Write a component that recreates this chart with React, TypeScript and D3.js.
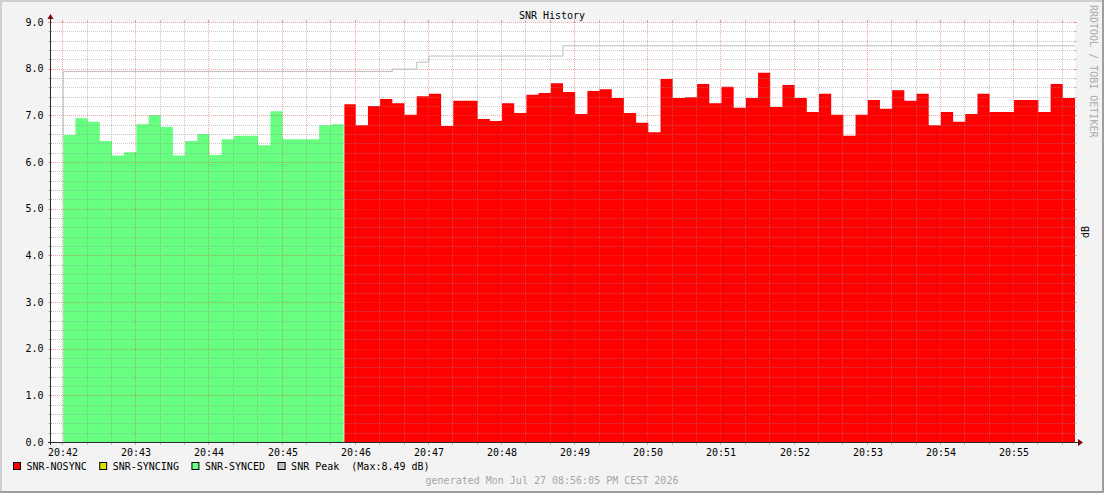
import React from 'react';
import * as d3 from 'd3';

// ---- data ----
const chartTitle = 'SNR History';
const verticalLabel = 'dB';
const watermark = 'RRDTOOL / TOBI OETIKER';
const footerText = 'generated Mon Jul 27 08:56:05 PM CEST 2026';

const viewStart = new Date(2026, 6, 27, 20, 41, 50);
const viewEnd = new Date(2026, 6, 27, 20, 55, 50);
const dataStart = new Date(2026, 6, 27, 20, 42, 0);
const stepSeconds = 10;

// SNR-SYNCED (green), first steps
const syncedValues = [
  6.58, 6.94, 6.86, 6.45, 6.14, 6.21, 6.81, 7.0, 6.75, 6.14, 6.45, 6.6,
  6.15, 6.49, 6.56, 6.56, 6.36, 7.09, 6.49, 6.49, 6.49, 6.79, 6.81,
];
// SNR-SYNCING (yellow), no samples in this window
const syncingValues: number[] = [];
// SNR-NOSYNC (red), steps following the synced ones
const nosyncValues = [
  7.24, 6.79, 7.2, 7.35, 7.26, 7.01, 7.41, 7.46, 6.77, 7.31, 7.31, 6.92,
  6.88, 7.26, 7.05, 7.44, 7.48, 7.69, 7.5, 7.03, 7.52, 7.56, 7.37, 7.05,
  6.84, 6.64, 7.78, 7.37, 7.39, 7.67, 7.26, 7.61, 7.16, 7.37, 7.91, 7.18,
  7.65, 7.37, 7.07, 7.46, 7.01, 6.56, 7.01, 7.33, 7.14, 7.54, 7.31, 7.46,
  6.79, 7.07, 6.86, 7.03, 7.46, 7.07, 7.07, 7.33, 7.33, 7.07, 7.67, 7.37,
];
// SNR Peak: step index where the level changes, and the level
const peakChangeSteps = [0, 27, 29, 30, 41];
const peakLevels = [7.94, 7.99, 8.14, 8.27, 8.49];
const peakMaxLabel = '8.49';

const yMax = 9;
const yMinorStep = 0.2;
const yMajorStep = 1;

const legendNames = ['SNR-NOSYNC', 'SNR-SYNCING', 'SNR-SYNCED', 'SNR Peak'];
const legendColors = ['#ff0000', '#dddd00', '#66ff80', '#c0c0c0'];

// ---- layout ----
const W = 1104;
const H = 493;
const PL = 51;
const PR = 1075;
const PT = 22;
const PB = 442;
const FONT = '"DejaVu Sans Mono", "Liberation Mono", monospace';
const CHAR_W = 6.02;

const MINOR_COLOR = 'rgba(143,143,143,0.5)';
const MAJOR_COLOR = 'rgba(222,80,80,0.5)';
const AXIS_COLOR = '#2a2a2a';
const ARROW_COLOR = '#7f0000';

type Pt = { t: Date; v: number };

const addSec = (d: Date, s: number) => new Date(d.getTime() + s * 1000);

function stepPoints(startIndex: number, values: number[]): Pt[] {
  if (!values.length) return [];
  const pts = values.map((v, i) => ({ t: addSec(dataStart, (startIndex + i) * stepSeconds), v }));
  pts.push({ t: addSec(dataStart, (startIndex + values.length) * stepSeconds), v: values[values.length - 1] });
  return pts;
}

export default function App() {
  const x = d3.scaleTime().domain([viewStart, viewEnd]).range([PL, PR]);
  const y = d3.scaleLinear().domain([0, yMax]).range([PB, PT]);

  const area = d3
    .area<Pt>()
    .curve(d3.curveStepAfter)
    .x((d) => x(d.t))
    .y0(y(0))
    .y1((d) => y(d.v));
  const line = d3
    .line<Pt>()
    .curve(d3.curveStepAfter)
    .x((d) => x(d.t))
    .y((d) => y(d.v));

  const greenPts = stepPoints(0, syncedValues);
  const yellowPts = stepPoints(syncedValues.length, syncingValues);
  const redStart = syncedValues.length + syncingValues.length;
  const redPts = stepPoints(redStart, nosyncValues);
  // tiny gap where one state hands over to the next
  const redArea = d3
    .area<Pt>()
    .curve(d3.curveStepAfter)
    .x((d, i) => x(d.t) + (i === 0 ? 0.8 : 0))
    .y0(y(0))
    .y1((d) => y(d.v));

  const totalSteps = redStart + nosyncValues.length;
  const peakPerStep = d3.range(totalSteps).map((i) => {
    let lvl = peakLevels[0];
    peakChangeSteps.forEach((s, j) => {
      if (s <= i) lvl = peakLevels[j];
    });
    return lvl;
  });
  const peakPts = stepPoints(0, peakPerStep);
  const firstValue = syncedValues.length ? syncedValues[0] : nosyncValues[0];
  const peakPath =
    line([{ t: dataStart, v: firstValue }, { t: dataStart, v: peakPerStep[0] }]) + (line(peakPts) || '');

  // grid
  const majorTimes = d3.timeMinute.range(viewStart, viewEnd);
  const minorTimes = d3.timeSecond
    .every(20)!
    .range(viewStart, viewEnd)
    .filter((t) => t.getSeconds() !== 0);
  const nMinor = Math.round(yMax / yMinorStep);
  const minorVals = d3
    .range(1, nMinor + 1)
    .map((i) => +(i * yMinorStep).toFixed(2))
    .filter((v) => Math.abs(v / yMajorStep - Math.round(v / yMajorStep)) > 1e-6);
  const majorVals = d3.range(yMajorStep, yMax + 0.001, yMajorStep);
  const labelVals = d3.range(0, yMax + 0.001, yMajorStep);

  const px = (t: Date) => Math.round(x(t)) - 0.5;
  const py = (v: number) => Math.round(y(v)) + 0.5;
  const fmt = d3.timeFormat('%H:%M');

  const vGrid = (t: Date, color: string, key: string) => {
    const xx = px(t);
    return (
      <g key={key}>
        <line x1={xx} x2={xx} y1={PT} y2={PB} stroke={color} strokeDasharray="1,1" />
        <line x1={xx} x2={xx} y1={PB} y2={PB + 3} stroke={color} />
        <line x1={xx} x2={xx} y1={PT - 2} y2={PT + 1} stroke={color} />
      </g>
    );
  };
  const hGrid = (v: number, color: string, key: string) => {
    const yy = py(v);
    return (
      <g key={key}>
        <line x1={PL} x2={PR} y1={yy} y2={yy} stroke={color} strokeDasharray="1,1" />
        <line x1={PL - 3} x2={PL + 1} y1={yy} y2={yy} stroke={color} />
        <line x1={PR - 1} x2={PR + 2} y1={yy} y2={yy} stroke={color} />
      </g>
    );
  };

  // legend layout
  let lx = 13;
  const legend = legendNames.map((name, i) => {
    const boxX = lx;
    const textX = boxX + 13.5;
    const label = i === legendNames.length - 1 ? `${name}  (Max:${peakMaxLabel} dB)` : name;
    lx = textX + label.length * CHAR_W + 12.5;
    return (
      <g key={name}>
        <rect x={boxX + 0.5} y={462.5} width={7} height={7} fill={legendColors[i]} stroke="#000" />
        <text x={textX} y={470} style={{ whiteSpace: 'pre' }}>
          {label}
        </text>
      </g>
    );
  });

  const axisY = py(0);
  const axisX = PL - 0.5;

  return (
    <svg
      width={W}
      height={H}
      viewBox={`0 0 ${W} ${H}`}
      style={{ position: 'absolute', left: 0, top: 0, display: 'block' }}
      fontFamily={FONT}
      fontSize={10}
    >
      <rect x={0} y={0} width={W} height={H} fill="#f3f3f3" />
      {/* 3d frame */}
      <rect x={0} y={0} width={W} height={2} fill="#cfcfcf" />
      <rect x={0} y={0} width={2} height={H} fill="#cfcfcf" />
      <rect x={W - 2} y={0} width={2} height={H} fill="#9e9e9e" />
      <rect x={0} y={H - 2} width={W} height={2} fill="#9e9e9e" />

      <rect x={PL} y={PT} width={PR - PL} height={PB - PT} fill="#ffffff" />

      {greenPts.length > 0 && <path d={area(greenPts) || ''} fill={legendColors[2]} />}
      {yellowPts.length > 0 && <path d={area(yellowPts) || ''} fill={legendColors[1]} />}
      {redPts.length > 0 && <path d={redArea(redPts) || ''} fill={legendColors[0]} />}

      {minorTimes.map((t, i) => vGrid(t, MINOR_COLOR, 'vm' + i))}
      {minorVals.map((v, i) => hGrid(v, MINOR_COLOR, 'hm' + i))}
      {majorTimes.map((t, i) => vGrid(t, MAJOR_COLOR, 'vM' + i))}
      {majorVals.map((v, i) => hGrid(v, MAJOR_COLOR, 'hM' + i))}

      <path d={peakPath} fill="none" stroke="#bdbdbd" strokeWidth={1} />

      {/* axes */}
      <line x1={PL - 3} x2={PR + 4} y1={axisY} y2={axisY} stroke={AXIS_COLOR} />
      <line x1={axisX} x2={axisX} y1={PB + 3} y2={PT - 4} stroke={AXIS_COLOR} />
      <path
        d={`M${PR + 3},${axisY - 3.5} L${PR + 8},${axisY} L${PR + 3},${axisY + 3.5} Z`}
        fill={ARROW_COLOR}
      />
      <path d={`M${axisX - 3},${PT - 3} L${axisX},${PT - 8} L${axisX + 3},${PT - 3} Z`} fill={ARROW_COLOR} />

      {labelVals.map((v) => (
        <text key={'yl' + v} x={43.5} y={y(v) + 3.7} textAnchor="end" fill="#000">
          {d3.format('.1f')(v)}
        </text>
      ))}
      {majorTimes.map((t, i) => (
        <text key={'xl' + i} x={px(t) + 0.5} y={455.7} textAnchor="middle" fill="#000">
          {fmt(t)}
        </text>
      ))}

      <text x={552} y={19} textAnchor="middle" fill="#000">
        {chartTitle}
      </text>

      <text transform={`translate(1089,${(PT + PB) / 2}) rotate(-90)`} textAnchor="middle" fill="#000">
        {verticalLabel}
      </text>
      <text transform="translate(1090,5) rotate(90)" fill="#aaaaaa">
        {watermark}
      </text>

      <g fill="#000">{legend}</g>

      <text x={552} y={484} textAnchor="middle" fill="#a6a6a6">
        {footerText}
      </text>
    </svg>
  );
}
